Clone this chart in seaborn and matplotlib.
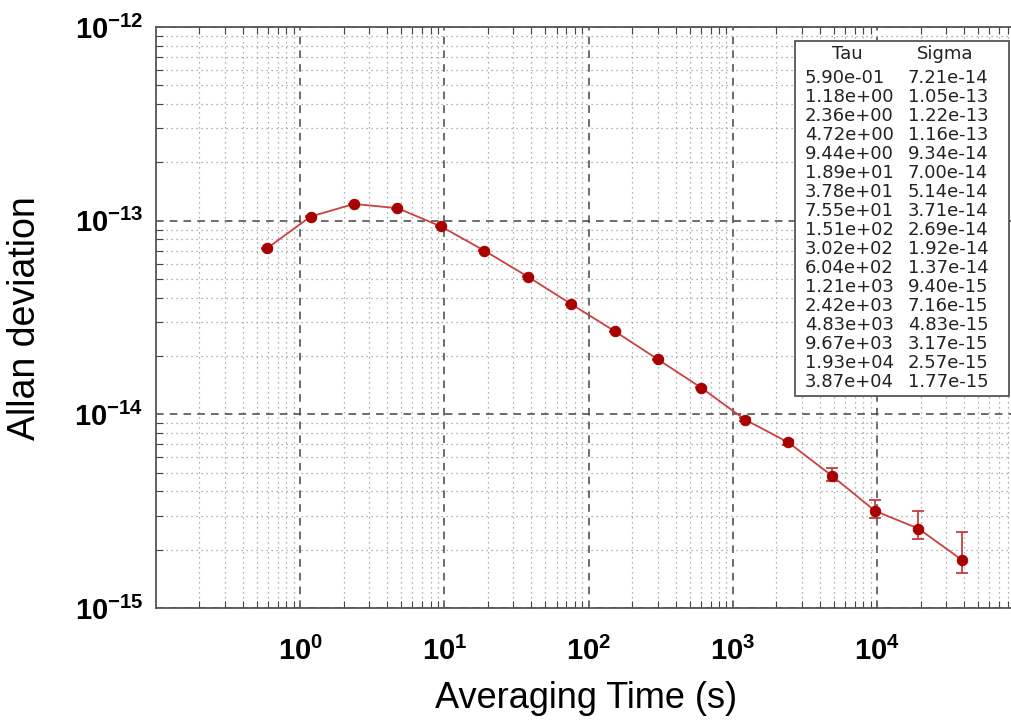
import numpy as np
import pandas as pd
import matplotlib
matplotlib.use("Agg")
import matplotlib.pyplot as plt
import seaborn as sns
from matplotlib.ticker import LogLocator, NullFormatter, FixedLocator
from matplotlib.patches import Rectangle

tau = [5.90e-01, 1.18e+00, 2.36e+00, 4.72e+00, 9.44e+00, 1.89e+01, 3.78e+01,
       7.55e+01, 1.51e+02, 3.02e+02, 6.04e+02, 1.21e+03, 2.42e+03, 4.83e+03,
       9.67e+03, 1.93e+04, 3.87e+04]
sigma = [7.21e-14, 1.05e-13, 1.22e-13, 1.16e-13, 9.34e-14, 7.00e-14, 5.14e-14,
         3.71e-14, 2.69e-14, 1.92e-14, 1.37e-14, 9.40e-15, 7.16e-15, 4.83e-15,
         3.17e-15, 2.57e-15, 1.77e-15]
err_lo = [0.4e-15, 0.5e-15, 0.5e-15, 0.5e-15, 0.4e-15, 0.3e-15, 0.25e-15,
          0.2e-15, 0.15e-15, 0.12e-15, 0.1e-15, 0.15e-15, 0.25e-15, 0.28e-15,
          0.27e-15, 0.31e-15, 0.26e-15]
err_hi = [0.4e-15, 0.5e-15, 0.5e-15, 0.5e-15, 0.4e-15, 0.3e-15, 0.25e-15,
          0.2e-15, 0.15e-15, 0.12e-15, 0.1e-15, 0.15e-15, 0.25e-15, 0.48e-15,
          0.46e-15, 0.58e-15, 0.69e-15]
x_ticks = [1e0, 1e1, 1e2, 1e3, 1e4]
x_tick_labels = [r"$\mathbf{10^{0}}$", r"$\mathbf{10^{1}}$", r"$\mathbf{10^{2}}$",
                 r"$\mathbf{10^{3}}$", r"$\mathbf{10^{4}}$"]
y_ticks = [1e-15, 1e-14, 1e-13, 1e-12]
y_tick_labels = [r"$\mathbf{10^{-15}}$", r"$\mathbf{10^{-14}}$",
                 r"$\mathbf{10^{-13}}$", r"$\mathbf{10^{-12}}$"]

df = pd.DataFrame({"tau": tau, "sigma": sigma})

sns.set_style("white")
plt.rcParams["font.family"] = ["Liberation Sans", "DejaVu Sans"]
plt.rcParams["mathtext.fontset"] = "custom"
plt.rcParams["mathtext.rm"] = "Liberation Sans"
plt.rcParams["mathtext.bf"] = "Liberation Sans:bold"

W, H = 1012, 724
fig = plt.figure(figsize=(10.12, 7.24), dpi=100)
ax = fig.add_axes([156 / W, 1 - 608 / H, 1 - 156 / W, (608 - 27) / H])

ax.set_xscale("log")
ax.set_yscale("log")
ax.set_xlim(0.1, 10 ** (4 + (1012 - 877) / 144.5))
ax.set_ylim(1e-15, 1e-12)

# grid
ax.xaxis.set_major_locator(FixedLocator(x_ticks))
ax.xaxis.set_minor_locator(LogLocator(base=10, subs=np.arange(2, 10), numticks=20))
ax.yaxis.set_major_locator(FixedLocator(y_ticks))
ax.yaxis.set_minor_locator(LogLocator(base=10, subs=np.arange(2, 10), numticks=20))
ax.xaxis.set_minor_formatter(NullFormatter())
ax.yaxis.set_minor_formatter(NullFormatter())
ax.grid(True, which="major", color="#444444", linestyle=(0, (5, 4)), linewidth=1.1)
ax.grid(True, which="minor", color="#999999", linestyle=(0, (1, 3)), linewidth=0.9)
ax.set_axisbelow(True)

ax.set_xticks(x_ticks)
ax.set_xticklabels(x_tick_labels)
ax.set_yticks(y_ticks)
ax.set_yticklabels(y_tick_labels)
ax.tick_params(axis="both", which="both", direction="in", top=True, left=True,
               bottom=True, right=False, colors="#444444", labelcolor="black")
ax.tick_params(axis="both", which="major", length=0, labelsize=21)
ax.tick_params(axis="x", which="major", pad=21)
ax.tick_params(axis="y", which="major", pad=9)
ax.tick_params(axis="both", which="minor", length=5, width=0.8)

for side in ["left", "bottom", "top"]:
    ax.spines[side].set_color("#555555")
    ax.spines[side].set_linewidth(1.3)
ax.spines["right"].set_visible(False)

# error bars and data
ax.errorbar(tau, sigma, yerr=[err_lo, err_hi], fmt="none", ecolor="#c03030",
            elinewidth=1.2, capsize=4, capthick=1.2, zorder=3)
sns.lineplot(data=df, x="tau", y="sigma", ax=ax, color="#cc4040", linewidth=1.3,
             marker="o", markersize=7.5, markerfacecolor="#a80000",
             markeredgecolor="#a80000", zorder=4)

ax.set_xlabel("Averaging Time (s)", fontsize=26, color="black")
ax.set_ylabel("Allan deviation", fontsize=27, color="black")
ax.xaxis.set_label_coords((586 - 156) / (W - 156), -(699 - 608) / (608 - 27))
ax.xaxis.label.set_verticalalignment("center")
ax.yaxis.set_label_coords(-(156 - 25) / (W - 156), (608 - 318) / (608 - 27))
ax.yaxis.label.set_verticalalignment("center")

# table box (figure pixel coordinates)
box_l, box_r, box_t, box_b = 795, 1009, 41, 396
fig.patches.append(Rectangle((box_l / W, 1 - box_b / H), (box_r - box_l) / W,
                             (box_b - box_t) / H, transform=fig.transFigure,
                             facecolor="white", edgecolor="#555555", linewidth=1.3,
                             zorder=5))
tfont = dict(fontsize=13, color="#222222", family="DejaVu Sans", zorder=6)
fig.text(847 / W, 1 - 54 / H, "Tau", ha="center", va="center", **tfont)
fig.text(945 / W, 1 - 54 / H, "Sigma", ha="center", va="center", **tfont)
for i, (t, s) in enumerate(zip(tau, sigma)):
    yy = 1 - (78 + i * 19.0) / H
    fig.text(805 / W, yy, f"{t:.2e}", ha="left", va="center", **tfont)
    fig.text(908 / W, yy, f"{s:.2e}", ha="left", va="center", **tfont)

if ax.get_legend() is not None:
    ax.get_legend().remove()

fig.savefig("out.png", dpi=100)
